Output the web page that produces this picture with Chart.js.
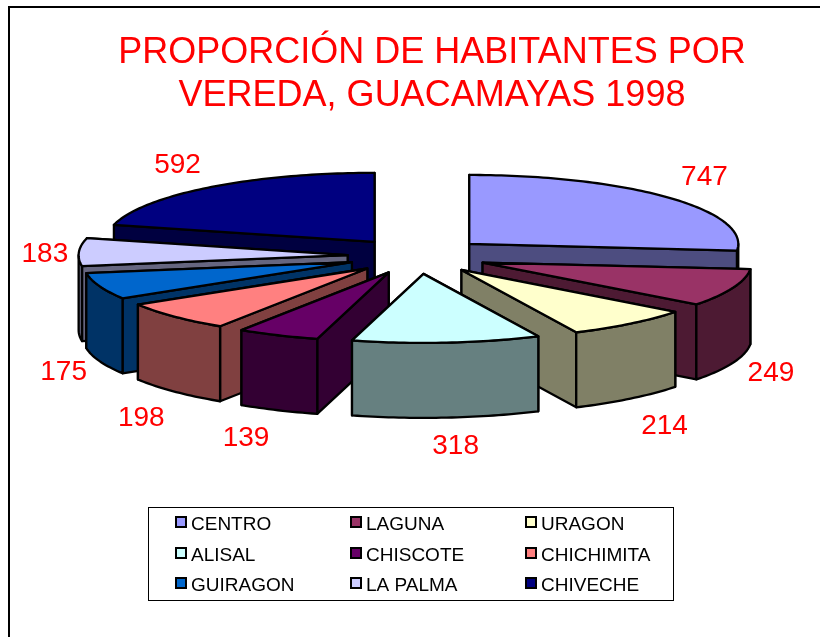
<!DOCTYPE html>
<html><head><meta charset="utf-8">
<style>html,body{margin:0;padding:0;background:#fff}canvas{display:block}</style>
<script src="https://cdn.jsdelivr.net/npm/chart.js@4"></script>
</head><body>
<div style="width:820px;height:637px;position:relative"><canvas id="c" width="820" height="637"></canvas></div>
<script>
const categories = ['CENTRO','LAGUNA','URAGON','ALISAL','CHISCOTE','CHICHIMITA','GUIRAGON','LA PALMA','CHIVECHE'];
const habitantes = [747,249,214,318,139,198,175,183,592];
const topColors = ['#9999FF','#993366','#FFFFCC','#CCFFFF','#660066','#FF8080','#0066CC','#CCCCFF','#000080'];
const wallColors = ['#4D4D80','#4D1A33','#808066','#668080','#330033','#804040','#003366','#666680','#000040'];
const titleLines = ['PROPORCIÓN DE HABITANTES POR','VEREDA, GUACAMAYAS 1998'];

// 3-D look of the pie
const GEO = {cx:417.5, cy:256, rx:269, ry:69, explode:0.26, depth:75};
const LABEL_NUDGE = [[36,-20],[38,10],[34,28],[9,29],[-32,28],[-33,27],[-36,11],[-34,2],[-32,-22]];
const PAINT_ORDER = [8,0,7,6,1,5,2,4,3];
const FONT = '"Liberation Sans", Arial, sans-serif';

function pt(apex, a, r, dy){
  return [apex[0] + GEO.rx*r*Math.cos(a), apex[1] + GEO.ry*r*Math.sin(a) + (dy||0)];
}
function apexOf(el){
  const mid = (el.startAngle+el.endAngle)/2;
  return [GEO.cx + GEO.rx*GEO.explode*Math.cos(mid), GEO.cy + GEO.ry*GEO.explode*Math.sin(mid)];
}
function poly(ctx, pts, fill){
  ctx.beginPath();
  pts.forEach((p,i)=> i?ctx.lineTo(p[0],p[1]):ctx.moveTo(p[0],p[1]));
  ctx.closePath(); ctx.fillStyle=fill; ctx.fill(); ctx.stroke();
}
function rimPts(apex, a0, a1, dy){
  const n = Math.max(2, Math.ceil((a1-a0)/0.02)), out=[];
  for(let i=0;i<=n;i++) out.push(pt(apex, a0+(a1-a0)*i/n, 1, dy));
  return out;
}
const pie3d = {
  id:'pie3d',
  beforeDatasetsDraw(chart){
    const ctx = chart.ctx, arcs = chart.getDatasetMeta(0).data, d = GEO.depth;
    ctx.save();
    ctx.lineWidth = 2.3; ctx.strokeStyle = '#000'; ctx.lineJoin='round';
    PAINT_ORDER.forEach(i=>{
      const el = arcs[i], apex = apexOf(el), s = el.startAngle, e = el.endAngle;
      const wall = wallColors[i];
      const mid = (s+e)/2;
      (Math.cos(mid)>=0 ? [s,e] : [e,s]).forEach(a=>{
        const p = pt(apex,a,1);
        poly(ctx,[apex,p,[p[0],p[1]+d],[apex[0],apex[1]+d]],wall);
      });
      // outer wall: only the part turned towards the viewer
      const f0 = Math.max(s,0), f1 = Math.min(e,Math.PI);
      const g0 = Math.max(s,2*Math.PI), g1 = Math.min(e,3*Math.PI);
      [[f0,f1],[g0,g1]].forEach(([a,b])=>{
        if(b<=a) return;
        poly(ctx, rimPts(apex,a,b,0).concat(rimPts(apex,a,b,d).reverse()), wall);
      });
      poly(ctx,[apex].concat(rimPts(apex,s,e,0)),topColors[i]);
    });
    // value labels
    ctx.fillStyle='#FF0000'; ctx.font='28px '+FONT; ctx.textAlign='center'; ctx.textBaseline='middle';
    arcs.forEach((el,i)=>{
      const mid=(el.startAngle+el.endAngle)/2, apex=apexOf(el), p=pt(apex,mid,1);
      const lifted = Math.sin(mid)>0 ? d : 0;
      ctx.fillText(String(habitantes[i]), p[0]+LABEL_NUDGE[i][0], p[1]+lifted+LABEL_NUDGE[i][1]);
    });
    ctx.restore();
  },
  beforeDatasetDraw(){ return false; },
  afterDraw(chart){
    const ctx=chart.ctx;
    ctx.save();
    ctx.strokeStyle='#000'; ctx.lineWidth=2;
    ctx.beginPath(); ctx.moveTo(9,637); ctx.lineTo(9,7); ctx.lineTo(820,7); ctx.stroke();
    ctx.lineWidth=1;
    // legend box
    ctx.strokeRect(148.5,507.5,525,93);
    ctx.font='19px '+FONT; ctx.textBaseline='middle'; ctx.textAlign='left';
    categories.forEach((name,i)=>{
      const col=i%3, row=Math.floor(i/3);
      const x=[176,351,526][col], y=[524,555,585][row];
      ctx.fillStyle=topColors[i]; ctx.lineWidth=2;
      ctx.fillRect(x,y-7,10,10); ctx.strokeRect(x,y-7,10,10);
      ctx.fillStyle='#000';
      ctx.fillText(name,x+15,y+1);
    });
    ctx.restore();
  }
};
new Chart(document.getElementById('c'),{
  type:'pie',
  plugins:[pie3d],
  data:{labels:categories,datasets:[{data:habitantes,backgroundColor:topColors,borderColor:'#000'}]},
  options:{
    responsive:false,animation:false,
    layout:{padding:{top:23,left:44}},
    plugins:{
      legend:{display:false},tooltip:{enabled:false},
      title:{display:true,fullSize:false,text:titleLines,color:'#FF0000',font:{family:FONT,size:36,weight:'normal',lineHeight:1.2},padding:{top:8,bottom:0}}
    }
  }
});
</script></body></html>
